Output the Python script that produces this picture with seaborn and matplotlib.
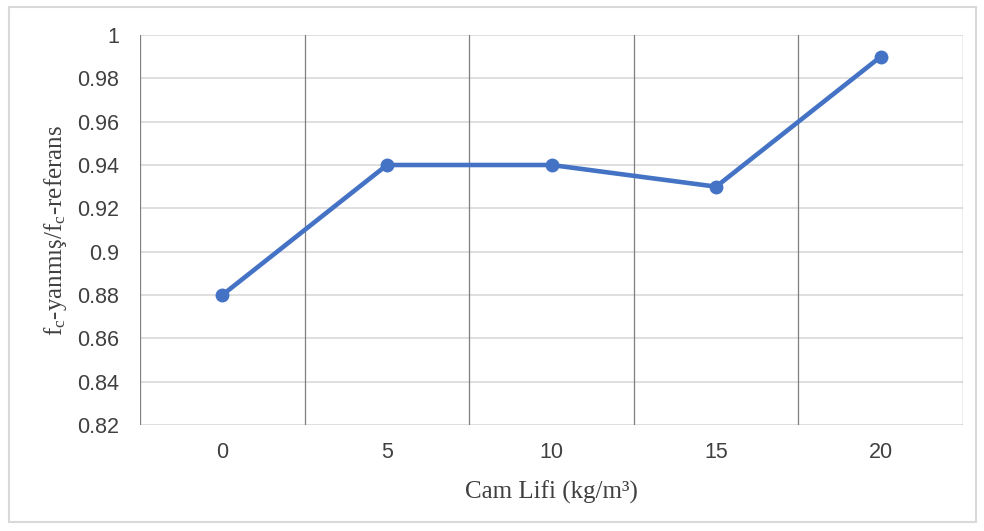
import matplotlib
matplotlib.use("Agg")
import matplotlib.pyplot as plt
from matplotlib.patches import Rectangle
import seaborn as sns
import pandas as pd
import numpy as np

categories = ["0", "5", "10", "15", "20"]
values = [0.88, 0.94, 0.94, 0.93, 0.99]
y_ticks = [0.82, 0.84, 0.86, 0.88, 0.90, 0.92, 0.94, 0.96, 0.98, 1.00]
y_tick_labels = ["0.82", "0.84", "0.86", "0.88", "0.9", "0.92", "0.94", "0.96", "0.98", "1"]

sns.set_theme(style="white")
plt.rcParams["font.family"] = ["Liberation Sans", "DejaVu Sans"]
plt.rcParams["mathtext.fontset"] = "custom"
plt.rcParams["mathtext.rm"] = "Liberation Serif"
plt.rcParams["mathtext.it"] = "Liberation Serif:italic"

df = pd.DataFrame({"pos": np.arange(len(categories)), "val": values})

fig = plt.figure(figsize=(9.84, 5.31), dpi=100)
ax = fig.add_axes([0.1423, 0.1996, 0.8364, 0.7345])

sns.lineplot(data=df, x="pos", y="val", ax=ax, color="#4472C4", linewidth=3.3,
             marker="o", markersize=10, markeredgewidth=0, zorder=3)

ax.set_xlim(-0.5, len(categories) - 0.5)
ax.set_ylim(0.82, 1.0)
ax.set_yticks(y_ticks)
ax.set_yticklabels(y_tick_labels, fontsize=15.5, color="#404040")
ax.set_xticks(np.arange(len(categories)))
ax.set_xticklabels(categories, fontsize=15.5, color="#404040")
ax.tick_params(axis="y", length=0, pad=15)
ax.tick_params(axis="x", length=0, pad=12)

for y in y_ticks:
    ax.axhline(y, color="#D9D9D9", linewidth=1.2, zorder=1)
for b in np.arange(-0.5, len(categories), 1.0):
    ax.axvline(b, color="#7F7F7F", linewidth=0.9, zorder=2)

for s in ax.spines.values():
    s.set_visible(False)

ax.set_xlabel("Cam Lifi (kg/m³)", fontsize=18, family="Liberation Serif", color="#404040", labelpad=13)
ax.set_ylabel(r"f$_\mathrm{c}$-yanmış/f$_\mathrm{c}$-referans", fontsize=18,
              family="Liberation Serif", color="#404040", labelpad=6)

fig.patches.append(Rectangle((9/984, 1 - 522/531), (976-9)/984, (522-7)/531,
                             transform=fig.transFigure, fill=False,
                             edgecolor="#D9D9D9", linewidth=1.5))

fig.savefig("out.png", dpi=100)
